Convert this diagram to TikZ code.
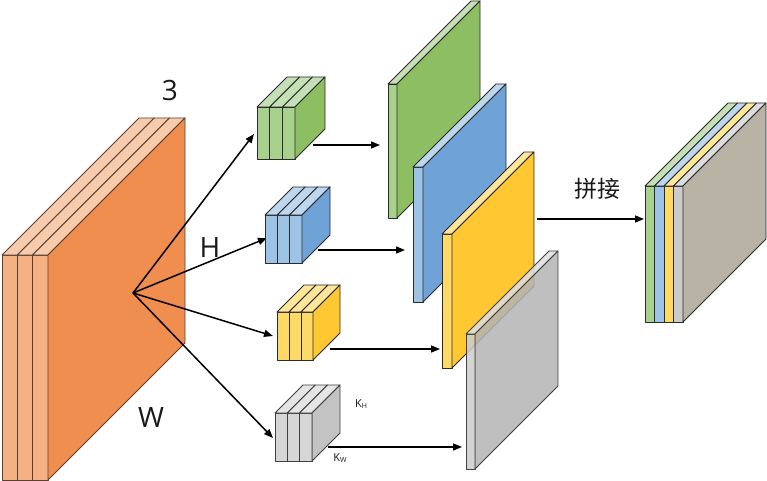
\documentclass[tikz,border=0pt]{standalone}
\usepackage{fontspec}
\setmainfont{Open Sans}
\newfontfamily\cjk{Noto Sans CJK SC}
\usetikzlibrary{arrows.meta}
\definecolor{orSide}{HTML}{F08E4F}
\definecolor{orFront}{HTML}{F4B183}
\definecolor{orTop}{HTML}{F8CBAD}
\definecolor{orEdge}{HTML}{5A4032}
\definecolor{grSide}{HTML}{8DBF62}
\definecolor{grFront}{HTML}{A9D18E}
\definecolor{grTop}{HTML}{C5E0B4}
\definecolor{blSide}{HTML}{6FA3D8}
\definecolor{blFront}{HTML}{9DC3E6}
\definecolor{blTop}{HTML}{BDD7EE}
\definecolor{ylSide}{HTML}{FFC832}
\definecolor{ylFront}{HTML}{FFD966}
\definecolor{ylTop}{HTML}{FFE699}
\definecolor{gySide}{HTML}{B4B4B4}
\definecolor{gyFront}{HTML}{CCCCCC}
\definecolor{gyTop}{HTML}{DEDEDE}
\definecolor{mixSide}{HTML}{B9B3A6}
\definecolor{edgeC}{HTML}{2A2A2A}
% x, y, w, h, d, front colour, top colour
\newcommand{\slabpiece}[7]{%
  \filldraw[fill=#6] (#1,#2) rectangle ({#1+#3},{#2+#4});
  \filldraw[fill=#7] (#1,#2) -- ({#1+#3},#2) -- ({#1+#3+#5},{#2-#5}) -- ({#1+#5},{#2-#5}) -- cycle;
}
% x, y, h, d, colour
\newcommand{\slabside}[5]{%
  \filldraw[fill=#5] (#1,#2) -- ({#1+#4},{#2-#4}) -- ({#1+#4},{#2-#4+#3}) -- (#1,{#2+#3}) -- cycle;
}
\tikzset{
  solid edge/.style={draw=edgeC, line width=0.9pt, line join=round},
  flow/.style={line width=1.5pt, draw=black, -{Triangle[length=9pt,width=7pt]}},
  bigtxt/.style={font=\fontsize{28}{30}\selectfont, text=black!90, inner sep=0pt},
  ktxt/.style={font=\fontsize{11}{13}\selectfont, text=black!90, inner sep=0pt}
}
\begin{document}
\begin{tikzpicture}[x=1pt,y=-1pt]
\useasboundingbox (0,0) rectangle (767,481);
% input feature map
\begin{scope}[draw=orEdge, line width=0.9pt, line join=round]
  \slabpiece{2}{255}{15.3}{225}{137}{orFront}{orTop}
  \slabpiece{17.3}{255}{15.3}{225}{137}{orFront}{orTop}
  \slabpiece{32.6}{255}{15.4}{225}{137}{orFront}{orTop}
  \slabside{48}{255}{225}{137}{orSide}
\end{scope}
% labels
\node[bigtxt] (l3) at (170,90) {3};
\node[bigtxt] (lH) at (210,248) {H};
\node[bigtxt] (lW) at (151,418) {W};
% branch arrows
\coordinate (c0) at (133,293);
\coordinate (tg) at (254,134);
\coordinate (tb) at (267,238);
\coordinate (ty) at (273,336);
\coordinate (tk) at (273,438);
\draw[flow] (c0) -- (tg);
\draw[flow] (c0) -- (tb);
\draw[flow] (c0) -- (ty);
\draw[flow] (c0) -- (tk);
% small kernels
\begin{scope}[solid edge]
  \slabpiece{257}{107}{12.7}{52}{30}{grFront}{grTop}
  \slabpiece{269.7}{107}{12.7}{52}{30}{grFront}{grTop}
  \slabpiece{282.4}{107}{12.6}{52}{30}{grFront}{grTop}
  \slabside{295}{107}{52}{30}{grSide}
  \slabpiece{265}{215}{12.3}{48}{28}{blFront}{blTop}
  \slabpiece{277.3}{215}{12.3}{48}{28}{blFront}{blTop}
  \slabpiece{289.6}{215}{12.4}{48}{28}{blFront}{blTop}
  \slabside{302}{215}{48}{28}{blSide}
  \slabpiece{277}{312}{12}{48}{27}{ylFront}{ylTop}
  \slabpiece{289}{312}{12}{48}{27}{ylFront}{ylTop}
  \slabpiece{301}{312}{12}{48}{27}{ylFront}{ylTop}
  \slabside{313}{312}{48}{27}{ylSide}
\end{scope}
\begin{scope}[solid edge, draw=black!75, fill opacity=0.8]
  \slabpiece{275}{413}{12.3}{48}{28}{gyFront}{gyTop}
  \slabpiece{287.3}{413}{12.3}{48}{28}{gyFront}{gyTop}
  \slabpiece{299.6}{413}{12.4}{48}{28}{gyFront}{gyTop}
  \slabside{312}{413}{48}{28}{gySide}
\end{scope}
\node[ktxt] (kh) at (361,404) {K\raisebox{-0.3ex}{\fontsize{7}{8}\selectfont H}};
\node[ktxt] (kw) at (340,458) {K\raisebox{-0.3ex}{\fontsize{7}{8}\selectfont W}};
% output maps
\begin{scope}[solid edge]
  \slabpiece{388}{84}{9}{134}{83}{grFront}{grTop}
  \slabside{397}{84}{134}{83}{grSide}
  \slabpiece{413}{167}{10}{135}{83}{blFront}{blTop}
  \slabside{423}{167}{135}{83}{blSide}
  \slabpiece{442}{234}{10}{134}{82}{ylFront}{ylTop}
  \slabside{452}{234}{134}{82}{ylSide}
\end{scope}
\begin{scope}[solid edge, draw=black!75, fill opacity=0.85]
  \slabpiece{466}{334}{9}{135}{83}{gyFront}{gyTop}
  \slabside{475}{334}{135}{83}{gySide}
\end{scope}
% concatenated result
\begin{scope}[solid edge]
  \slabpiece{645}{186}{9.5}{136}{83}{grFront}{grTop}
  \slabpiece{654.5}{186}{9.5}{136}{83}{blFront}{blTop}
  \slabpiece{664}{186}{9.5}{136}{83}{ylFront}{ylTop}
  \slabpiece{673.5}{186}{9.5}{136}{83}{gyFront}{gyTop}
  \slabside{683}{186}{136}{83}{mixSide}
\end{scope}
% horizontal arrows
\coordinate (sg) at (313,145); \coordinate (eg) at (380,145);
\coordinate (sb) at (318,250); \coordinate (eb) at (405,250);
\coordinate (sy) at (330,349); \coordinate (ey) at (440,349);
\coordinate (sk) at (328,447); \coordinate (ek) at (462,447);
\coordinate (sc) at (537,219); \coordinate (ec) at (644,219);
\draw[flow] (sg) -- (eg);
\draw[flow] (sb) -- (eb);
\draw[flow] (sy) -- (ey);
\draw[flow] (sk) -- (ek);
\draw[flow] (sc) -- (ec);
\node[inner sep=0pt, text=black!90, font=\cjk\fontsize{23}{25}\selectfont] (cat) at (597,189) {拼接};
\end{tikzpicture}
\end{document}
